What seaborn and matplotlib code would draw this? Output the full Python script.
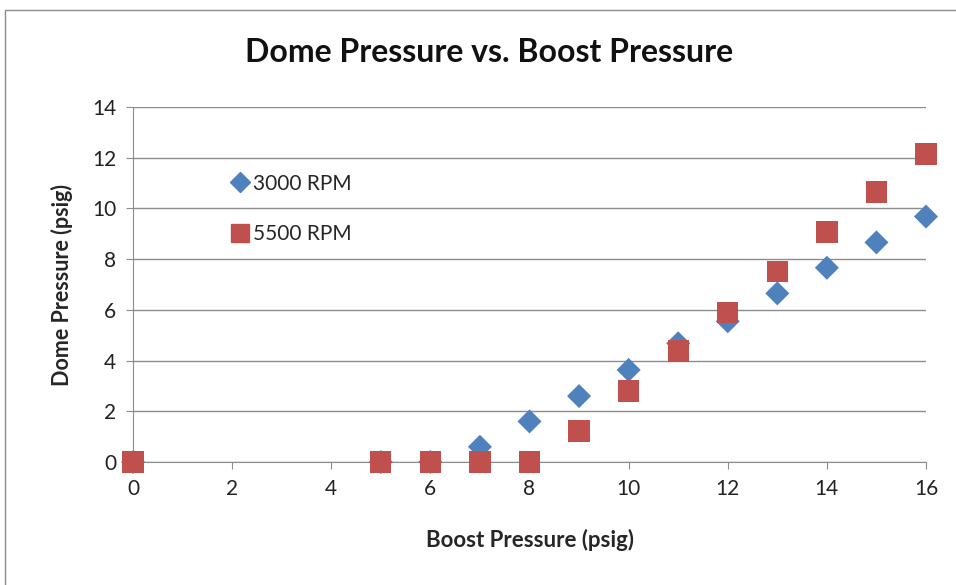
import pandas as pd
import matplotlib
matplotlib.use("Agg")
import matplotlib.pyplot as plt
from matplotlib.patches import Rectangle
from matplotlib.lines import Line2D
import seaborn as sns

# values
boost_3000 = [0, 5, 6, 7, 8, 9, 10, 11, 12, 13, 14, 15, 16]
dome_3000 = [0, 0, 0, 0.6, 1.6, 2.6, 3.63, 4.68, 5.55, 6.65, 7.66, 8.66, 9.68]
boost_5500 = [0, 5, 6, 7, 8, 9, 10, 11, 12, 13, 14, 15, 16]
dome_5500 = [0, 0, 0, 0, 0, 1.22, 2.8, 4.38, 5.9, 7.5, 9.07, 10.65, 12.15]
x_ticks = [0, 2, 4, 6, 8, 10, 12, 14, 16]
y_ticks = [0, 2, 4, 6, 8, 10, 12, 14]

blue = '#4F81BD'
red = '#C0504D'

df_a = pd.DataFrame({'boost': boost_3000, 'dome': dome_3000})
df_b = pd.DataFrame({'boost': boost_5500, 'dome': dome_5500})

sns.set_style('white')
plt.rcParams['font.family'] = ['Lato', 'DejaVu Sans']

fig = plt.figure(figsize=(9.56, 5.85), dpi=100)
ax = fig.add_axes([133 / 956, 1 - 462 / 585, (926 - 133) / 956, (462 - 107) / 585])

sns.scatterplot(data=df_a, x='boost', y='dome', marker='D', s=150, color=blue,
                edgecolor='none', ax=ax, clip_on=False, zorder=3)
sns.scatterplot(data=df_b, x='boost', y='dome', marker='s', s=235, color=red,
                edgecolor='none', ax=ax, clip_on=False, zorder=4)

ax.set_xlim(0, 16)
ax.set_ylim(0, 14)
ax.set_xticks(x_ticks)
ax.set_yticks(y_ticks)
ax.yaxis.grid(True, color='#8c8c8c', linewidth=1)
ax.xaxis.grid(False)
ax.set_axisbelow(True)
for s in ['top', 'right']:
    ax.spines[s].set_visible(False)
ax.spines['left'].set_color('#8c8c8c')
ax.spines['bottom'].set_color('#8c8c8c')
ax.tick_params(axis='both', direction='out', length=5, color='#8c8c8c',
               labelsize=15, labelcolor='#222222', left=True, bottom=True, pad=7)

ax.set_xlabel('Boost Pressure (psig)', fontsize=16, fontweight='bold', labelpad=22)
ax.set_ylabel('Dome Pressure (psig)', fontsize=15.5, fontweight='bold', labelpad=14)
# title is centred on the whole chart, not on the plot area
fig.text(489 / 956, 1 - 53 / 585, 'Dome Pressure vs. Boost Pressure', fontsize=23,
         fontweight='bold', ha='center', va='center', color='#111111')

handles = [
    Line2D([], [], marker='D', linestyle='none', color=blue, markersize=10),
    Line2D([], [], marker='s', linestyle='none', color=red, markersize=12.5),
]
ax.legend(handles, ['3000 RPM', '5500 RPM'], loc='upper left',
          bbox_to_anchor=(0.095, 0.865), frameon=False, fontsize=15,
          handletextpad=0.05, labelspacing=1.45, handlelength=1.2)

fig.patches.append(Rectangle((5 / 956, -0.1), 1.2, 1 - 10 / 585 + 0.1,
                             transform=fig.transFigure, fill=False,
                             edgecolor='#8c8c8c', linewidth=1))

fig.savefig('out.png', dpi=100)
